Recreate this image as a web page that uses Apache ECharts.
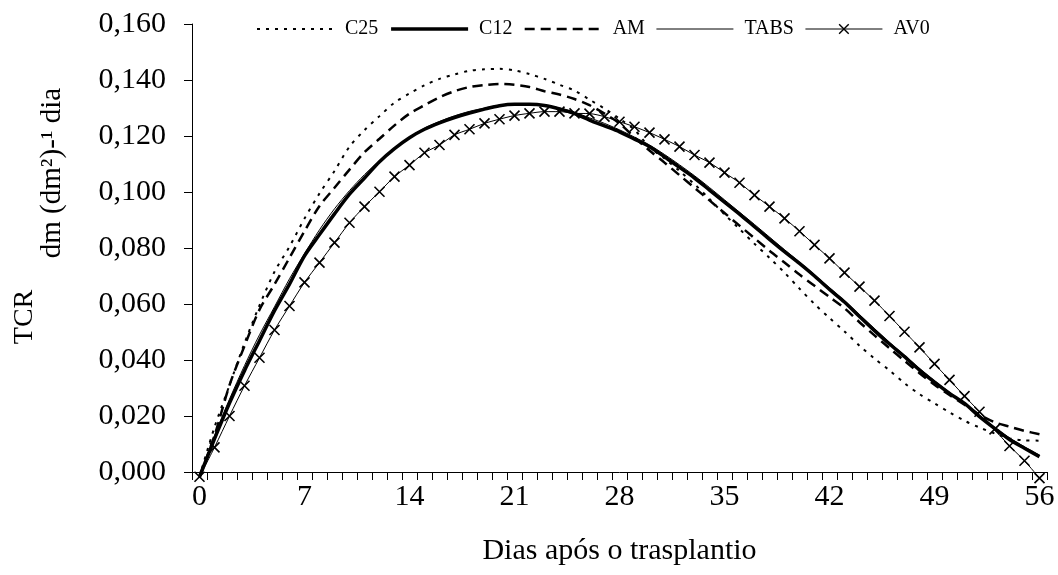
<!DOCTYPE html>
<html>
<head>
<meta charset="utf-8">
<script src="https://cdn.jsdelivr.net/npm/echarts@6/dist/echarts.min.js"></script>
<style>
html,body{margin:0;padding:0;background:#fff;}
#chart{width:1058px;height:575px;}
</style>
</head>
<body>
<div id="chart"></div>
<script>
// Days after transplanting (category axis 0..56)
const days = Array.from({length: 57}, (_, i) => String(i));

const C25 = [-0.0017,0.0160,0.0310,0.0460,0.0595,0.0715,0.0805,0.0905,0.0995,0.1075,
  0.1162,0.1221,0.1271,0.1319,0.1352,0.1381,0.1404,0.1420,0.1433,0.1438,
  0.1440,0.1434,0.1421,0.1404,0.1383,0.1362,0.1330,0.1298,0.1262,0.1222,
  0.1160,0.1120,0.1075,0.1028,0.0975,0.0920,0.0868,0.0815,0.0765,0.0712,
  0.0655,0.0600,0.0550,0.0502,0.0451,0.0405,0.0363,0.0317,0.0278,0.0245,
  0.0213,0.0183,0.0159,0.0138,0.0120,0.0113,0.0112];

const C12 = [-0.0017,0.0118,0.0246,0.0362,0.0469,0.0576,0.0671,0.0772,0.0848,0.0922,
  0.0992,0.1050,0.1108,0.1155,0.1194,0.1224,0.1247,0.1266,0.1282,0.1296,
  0.1308,0.1313,0.1313,0.1309,0.1297,0.1280,0.1257,0.1236,0.1215,0.1189,
  0.1162,0.1126,0.1088,0.1050,0.1007,0.0964,0.0921,0.0876,0.0831,0.0787,
  0.0745,0.0700,0.0652,0.0607,0.0555,0.0505,0.0457,0.0412,0.0364,0.0321,
  0.0281,0.0245,0.0198,0.0156,0.0116,0.0085,0.0055];

const AM = [-0.0017,0.0130,0.0310,0.0450,0.0580,0.0670,0.0765,0.0860,0.0950,0.1015,
  0.1080,0.1142,0.1190,0.1238,0.1280,0.1310,0.1338,0.1360,0.1375,0.1382,
  0.1386,0.1383,0.1375,0.1360,0.1348,0.1332,0.1310,0.1280,0.1245,0.1195,
  0.1148,0.1105,0.1060,0.1015,0.0970,0.0925,0.0880,0.0835,0.0790,0.0748,
  0.0705,0.0665,0.0625,0.0585,0.0535,0.0488,0.0442,0.0397,0.0353,0.0312,
  0.0275,0.0240,0.0205,0.0178,0.0162,0.0147,0.0135];

const TABS = [-0.0017,0.0130,0.0260,0.0380,0.0490,0.0590,0.0690,0.0780,0.0865,0.0940,
  0.1005,0.1062,0.1112,0.1158,0.1196,0.1228,0.1252,0.1272,0.1288,0.1300,
  0.1310,0.1315,0.1315,0.1310,0.1300,0.1285,0.1265,0.1245,0.1222,0.1196,
  0.1168,0.1134,0.1097,0.1058,0.1016,0.0972,0.0928,0.0884,0.0839,0.0794,
  0.0750,0.0705,0.0658,0.0612,0.0562,0.0512,0.0463,0.0417,0.0370,0.0326,
  0.0285,0.0246,0.0203,0.0160,0.0122,0.0090,0.0060];

const AV0 = [-0.0017,0.0088,0.0200,0.0308,0.0408,0.0507,0.0593,0.0677,0.0748,0.0819,
  0.0890,0.0948,0.1001,0.1055,0.1096,0.1140,0.1168,0.1204,0.1224,0.1245,
  0.1260,0.1273,0.1281,0.1287,0.1287,0.1281,0.1280,0.1269,0.1251,0.1233,
  0.1212,0.1188,0.1162,0.1132,0.1105,0.1069,0.1033,0.0989,0.0948,0.0906,
  0.0860,0.0811,0.0763,0.0712,0.0662,0.0612,0.0557,0.0501,0.0445,0.0386,
  0.0329,0.0271,0.0215,0.0152,0.0093,0.0040,-0.0022];

const seriesNames = ['C25','C12','AM','TABS','AV0'];
const xTitle = 'Dias após o trasplantio';
const yTitle1 = 'TCR';
const yTitle2 = 'dm (dm²)-¹ dia';

const FONT = "'Liberation Serif','Times New Roman',serif";

const chart = echarts.init(document.getElementById('chart'), null, {renderer: 'canvas'});

const styles = {
  C25: {width: 2, type: [3, 6]},
  C12: {width: 3.5, type: 'solid'},
  AM: {width: 2.5, type: [10, 6]},
  TABS: {width: 1, type: 'solid'},
  AV0: {width: 1, type: 'solid'}
};

function lineSeries(name, data, extra) {
  return Object.assign({
    name: name,
    type: 'line',
    data: data,
    symbol: 'none',
    smooth: 0.3,
    clip: false,
    lineStyle: Object.assign({color: '#000'}, styles[name]),
    itemStyle: {color: '#000'},
    emphasis: {disabled: true}
  }, extra || {});
}

const legendData = seriesNames.map(n => n === 'AV0'
  ? {name: n, lineStyle: Object.assign({color: '#000'}, styles[n]),
     itemStyle: {color: 'rgba(0,0,0,0)', borderColor: '#000', borderWidth: 1.4}}
  : {name: n, lineStyle: Object.assign({color: '#000'}, styles[n]), itemStyle: {opacity: 0}});

const option = {
  animation: false,
  backgroundColor: '#fff',
  grid: {left: 192, right: 11, top: 24, bottom: 103, containLabel: false},
  legend: {
    data: legendData,
    left: 251,
    top: 14,
    itemWidth: 77,
    itemHeight: 12,
    itemGap: 11,
    textStyle: {fontFamily: FONT, fontSize: 20, color: '#000', padding: [0, 0, 0, 6]},
    selectedMode: false
  },
  xAxis: {
    type: 'category',
    data: days,
    boundaryGap: true,
    axisLine: {lineStyle: {color: '#000', width: 1}},
    axisTick: {show: true, interval: 0, length: 8, inside: false, lineStyle: {color: '#000'}},
    axisLabel: {interval: 6, margin: 10, fontFamily: FONT, fontSize: 30, color: '#000'},
    splitLine: {show: false},
    name: xTitle,
    nameLocation: 'middle',
    nameGap: 64,
    nameTextStyle: {fontFamily: FONT, fontSize: 30, color: '#000'}
  },
  yAxis: {
    type: 'value',
    min: 0,
    max: 0.16,
    interval: 0.02,
    axisLine: {show: true, lineStyle: {color: '#000', width: 1}},
    axisTick: {show: true, length: 8, lineStyle: {color: '#000'}},
    axisLabel: {
      margin: 26,
      fontFamily: FONT, fontSize: 30, color: '#000',
      formatter: v => v.toFixed(3).replace('.', ',')
    },
    splitLine: {show: false}
  },
  graphic: [
    {type: 'text', x: 25, y: 317, rotation: Math.PI / 2,
      style: {text: yTitle1, font: "28px 'Liberation Serif','Times New Roman',serif", fill: '#000', textAlign: 'center', textVerticalAlign: 'middle'}},
    {type: 'text', x: 52, y: 173, rotation: Math.PI / 2,
      style: {text: yTitle2, font: "29px 'Liberation Serif','Times New Roman',serif", fill: '#000', textAlign: 'center', textVerticalAlign: 'middle'}}
  ],
  series: [
    lineSeries('C25', C25),
    lineSeries('C12', C12),
    lineSeries('AM', AM),
    lineSeries('TABS', TABS),
    lineSeries('AV0', AV0, {
      symbol: 'path://M0,0L10,10M10,0L0,10',
      symbolSize: 10,
      showSymbol: true,
      itemStyle: {color: 'rgba(0,0,0,0)', borderColor: '#000', borderWidth: 1.6}
    })
  ]
};

chart.setOption(option);
</script>
</body>
</html>
